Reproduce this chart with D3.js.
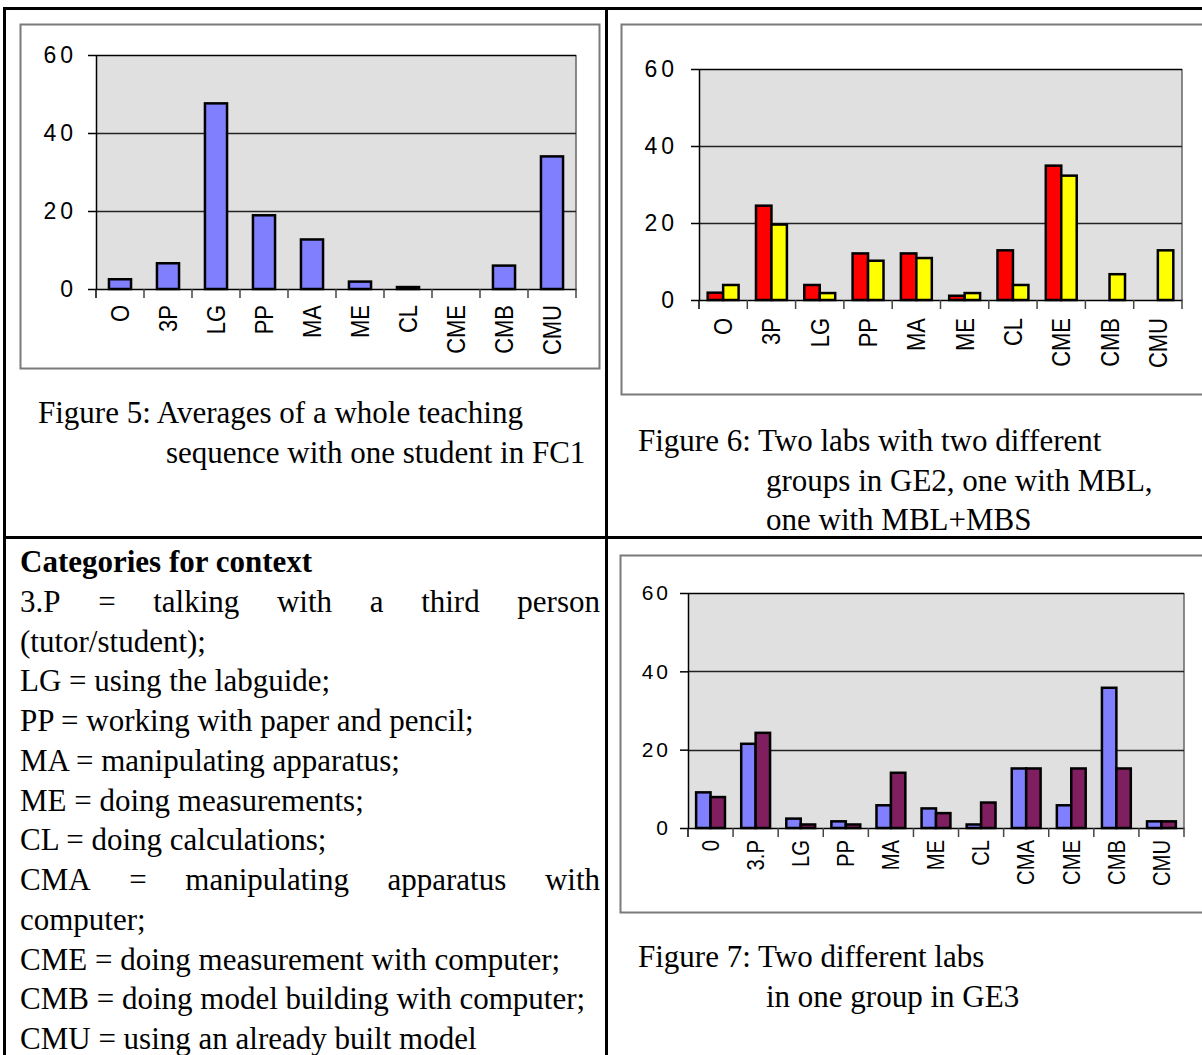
<!DOCTYPE html>
<html>
<head>
<meta charset="utf-8">
<script src="https://cdn.jsdelivr.net/npm/d3@7"></script>
<style>
  html, body { margin: 0; padding: 0; background: #fff; }
  svg { display: block; }
  .serif { font-family: "Liberation Serif", "Times New Roman", serif; fill: #000; }
  .sans { font-family: "Liberation Sans", Arial, sans-serif; fill: #000; }
</style>
</head>
<body>
<svg id="page" width="1202" height="1055"></svg>
<script>
// ---- data ---------------------------------------------------------------
const yTicks = [0, 20, 40, 60];

// Figure 5: one student in FC1
const cats5 = ["O", "3P", "LG", "PP", "MA", "ME", "CL", "CME", "CMB", "CMU"];
const fc1 = [2.5, 6.6, 47.6, 18.9, 12.7, 1.9, 0.5, 0, 6.0, 34.0];

// Figure 6: two groups in GE2 (MBL, MBL+MBS)
const cats6 = ["O", "3P", "LG", "PP", "MA", "ME", "CL", "CME", "CMB", "CMU"];
const ge2MBL = [1.9, 24.5, 3.9, 12.1, 12.1, 1.1, 12.9, 34.9, 0, 0];
const ge2MBS = [3.9, 19.6, 1.8, 10.2, 10.9, 1.8, 3.9, 32.3, 6.7, 12.9];

// Figure 7: two labs in one group in GE3
const cats7 = ["0", "3.P", "LG", "PP", "MA", "ME", "CL", "CMA", "CME", "CMB", "CMU"];
const ge3Lab1 = [9.1, 21.5, 2.4, 1.7, 5.8, 5.0, 0.9, 15.2, 5.8, 35.8, 1.7];
const ge3Lab2 = [7.9, 24.3, 0.9, 0.9, 14.1, 3.8, 6.5, 15.2, 15.2, 15.2, 1.7];

const captions5 = ["Figure 5: Averages of a whole teaching", "sequence with one student in FC1"];
const captions6 = ["Figure 6: Two labs with two different", "groups in GE2, one with MBL,", "one with MBL+MBS"];
const captions7 = ["Figure 7: Two different labs", "in one group in GE3"];

const legendTitle = "Categories for context";
// [text, justified]
const legendLines = [
  ["3.P = talking with a third person", true],
  ["(tutor/student);", false],
  ["LG = using the labguide;", false],
  ["PP = working with paper and pencil;", false],
  ["MA = manipulating apparatus;", false],
  ["ME = doing measurements;", false],
  ["CL = doing calculations;", false],
  ["CMA = manipulating apparatus with", true],
  ["computer;", false],
  ["CME = doing measurement with computer;", false],
  ["CMB = doing model building with computer;", false],
  ["CMU = using an already built model", false]
];

// ---- page ---------------------------------------------------------------
const svg = d3.select("#page");

// table rules
const rules = svg.append("g").attr("stroke", "#000").attr("stroke-width", 3);
rules.append("line").attr("x1", 3).attr("x2", 1202).attr("y1", 8.5).attr("y2", 8.5);
rules.append("line").attr("x1", 4.5).attr("x2", 4.5).attr("y1", 7).attr("y2", 1055);
rules.append("line").attr("x1", 606.5).attr("x2", 606.5).attr("y1", 7).attr("y2", 1055);
rules.append("line").attr("x1", 3).attr("x2", 1202).attr("y1", 537.5).attr("y2", 537.5);

function barChart(cfg) {
  const g = svg.append("g");
  const P = cfg.plot;

  // chart frame
  g.append("rect")
    .attr("x", cfg.frame[0] + 0.5).attr("y", cfg.frame[1] + 0.5)
    .attr("width", cfg.frame[2] - cfg.frame[0]).attr("height", cfg.frame[3] - cfg.frame[1])
    .attr("fill", "#fff").attr("stroke", "#7a7a7a").attr("stroke-width", 2);

  const x = d3.scaleBand().domain(cfg.cats).range([P.l, P.r]);
  const y = d3.scaleLinear().domain([0, 60]).range([P.b, P.t]);

  // plot area
  g.append("rect").attr("x", P.l).attr("y", y(60))
    .attr("width", P.r - P.l).attr("height", y(0) - y(60)).attr("fill", "#e0e0e0");
  g.append("line").attr("x1", P.r).attr("x2", P.r).attr("y1", y(60)).attr("y2", y(0))
    .attr("stroke", "#666").attr("stroke-width", 1.5);

  // gridlines
  g.append("g").selectAll("line").data(yTicks.filter(v => v > 0)).join("line")
    .attr("x1", P.l).attr("x2", P.r)
    .attr("y1", d => Math.round(y(d)) + 0.5).attr("y2", d => Math.round(y(d)) + 0.5)
    .attr("stroke", d => d === 60 ? "#000" : "#222").attr("stroke-width", 1.5);

  // bars
  const bw = x.bandwidth();
  const inner = d3.scaleBand().domain(d3.range(cfg.series.length))
    .range([(1 - cfg.groupFrac) / 2 * bw, (1 + cfg.groupFrac) / 2 * bw]);
  cfg.series.forEach((s, i) => {
    g.append("g").selectAll("rect")
      .data(cfg.cats.map((c, j) => ({ c, v: s.values[j] })).filter(d => d.v > 0))
      .join("rect")
      .attr("x", d => x(d.c) + inner(i))
      .attr("y", d => y(d.v))
      .attr("width", inner.bandwidth())
      .attr("height", d => y(0) - y(d.v))
      .attr("fill", s.color)
      .attr("stroke", "#000").attr("stroke-width", 2.5);
  });

  // value axis
  const ya = g.append("g").attr("transform", `translate(${P.l},0)`)
    .call(d3.axisLeft(y).tickValues(yTicks).tickSize(8).tickSizeOuter(0).tickPadding(cfg.yPad));
  ya.select(".domain").attr("stroke", "#000").attr("stroke-width", 1.5);
  ya.selectAll(".tick line").attr("stroke", "#000").attr("stroke-width", 1.5);
  ya.selectAll(".tick text").attr("class", "sans").attr("font-size", cfg.yFont)
    .attr("letter-spacing", cfg.ySpacing).attr("font-family", null);
  ya.attr("font-family", null).attr("font-size", null);

  // category axis
  const xa = g.append("g").attr("transform", `translate(0,${y(0)})`)
    .call(d3.axisBottom(x).tickSize(0).tickSizeOuter(0));
  xa.select(".domain").attr("stroke", "#000").attr("stroke-width", 1.5);
  xa.attr("font-family", null).attr("font-size", null);
  xa.selectAll(".tick text")
    .attr("class", "sans")
    .attr("font-size", cfg.xFont)
    .attr("x", 0).attr("y", 0).attr("dy", "0.36em")
    .attr("text-anchor", "end")
    .attr("transform", `translate(0,${cfg.xGap}) rotate(-90) scale(${cfg.xSqueeze},1)`);

  // category separators
  g.append("g").selectAll("line").data(d3.range(cfg.cats.length + 1)).join("line")
    .attr("x1", i => P.l + i * x.step()).attr("x2", i => P.l + i * x.step())
    .attr("y1", y(0)).attr("y2", y(0) + 9)
    .attr("stroke", i => (i === 0 ? "#000" : "#444")).attr("stroke-width", 1.5);
}

barChart({
  frame: [20, 24, 599, 368],
  plot: { l: 96, r: 576, t: 55, b: 289 },
  cats: cats5,
  series: [{ values: fc1, color: "#8080ff" }],
  groupFrac: 0.46,
  yPad: 11, yFont: 23, ySpacing: 4,
  xFont: 25, xGap: 16, xSqueeze: 0.88
});

barChart({
  frame: [621, 24, 1210, 394],
  plot: { l: 699, r: 1182, t: 69, b: 300 },
  cats: cats6,
  series: [{ values: ge2MBL, color: "#ff0000" }, { values: ge2MBS, color: "#ffff00" }],
  groupFrac: 0.64,
  yPad: 13, yFont: 23, ySpacing: 4,
  xFont: 25, xGap: 18, xSqueeze: 0.88
});

barChart({
  frame: [620, 555, 1210, 912],
  plot: { l: 688, r: 1184, t: 593, b: 828 },
  cats: cats7,
  series: [{ values: ge3Lab1, color: "#8080ff" }, { values: ge3Lab2, color: "#7f1f5f" }],
  groupFrac: 0.64,
  yPad: 9, yFont: 21, ySpacing: 3,
  xFont: 23, xGap: 12, xSqueeze: 0.88
});

// ---- captions -------------------------------------------------------------
function caption(lines, x0, indent, y0, step) {
  svg.append("g").selectAll("text").data(lines).join("text")
    .attr("class", "serif").attr("font-size", 31)
    .attr("x", (d, i) => (i === 0 ? x0 : indent))
    .attr("y", (d, i) => y0 + i * step)
    .text(d => d);
}
caption(captions5, 38, 166, 423, 40);
caption(captions6, 638, 766, 451, 39.5);
caption(captions7, 638, 766, 967, 40);

// ---- legend of categories ----------------------------------------------
const legX0 = 20, legX1 = 600, legY0 = 572, legStep = 39.75;
svg.append("text").attr("class", "serif").attr("font-size", 31).attr("font-weight", "bold")
  .attr("x", legX0).attr("y", legY0).text(legendTitle);

legendLines.forEach(([line, justify], i) => {
  const yy = legY0 + (i + 1) * legStep;
  if (!justify) {
    svg.append("text").attr("class", "serif").attr("font-size", 31)
      .attr("x", legX0).attr("y", yy).text(line);
    return;
  }
  const words = line.split(" ");
  const ws = words.map(w => svg.append("text").attr("class", "serif").attr("font-size", 31)
    .attr("y", yy).text(w));
  const widths = ws.map(t => t.node().getComputedTextLength());
  const gap = (legX1 - legX0 - d3.sum(widths)) / (words.length - 1);
  let cx = legX0;
  ws.forEach((t, k) => { t.attr("x", cx); cx += widths[k] + gap; });
});
</script>
</body>
</html>
